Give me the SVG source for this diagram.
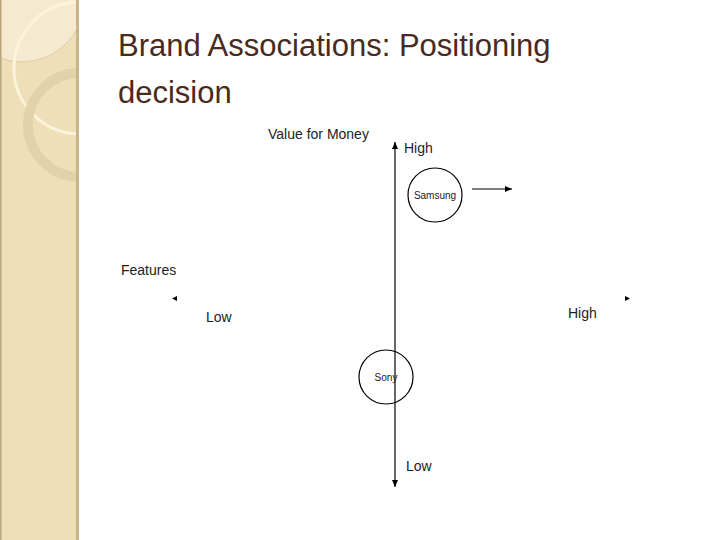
<svg xmlns="http://www.w3.org/2000/svg" width="720" height="540" viewBox="0 0 720 540">
<style>
.t{font-family:"Liberation Sans",Arial,sans-serif;fill:#222}
.n{fill:none;stroke:#000;stroke-width:1.2}
</style>
<defs>
<marker id="a" markerWidth="8" markerHeight="8" refX="7" refY="4" orient="auto" markerUnits="userSpaceOnUse"><path d="M0,1 L7,4 L0,7Z" fill="#000"/></marker>
<clipPath id="c"><rect x="0" y="0" width="78" height="540"/></clipPath>
</defs>
<rect width="720" height="540" fill="#fff"/>
<g id="strip">
<rect x="0" y="0" width="78" height="540" fill="#efdfb8"/>
<g clip-path="url(#c)">
<circle cx="22" cy="0" r="62" fill="#f5ead0" stroke="#d8c59b" stroke-width="0.8"/>
<circle cx="80" cy="68" r="66" fill="none" stroke="#fbf3dc" stroke-width="3"/>
<circle cx="80" cy="125" r="52" fill="none" stroke="#e2d2aa" stroke-width="10"/>
</g>
<rect x="76" y="0" width="3" height="540" fill="#c9b58a"/>
<rect x="0" y="0" width="1.5" height="540" fill="#b8a57c"/>
</g>
<text class="t" x="118" y="56" font-size="31" style="fill:#4a2a1c">Brand Associations: Positioning</text>
<text class="t" x="118" y="103" font-size="31" style="fill:#4a2a1c">decision</text>
<g id="connectors">
<line class="n" x1="395" y1="300" x2="395" y2="142" marker-end="url(#a)"/>
<line class="n" x1="395" y1="300" x2="395" y2="487" marker-end="url(#a)"/>
<line class="n" x1="472" y1="189" x2="512" y2="189" marker-end="url(#a)"/>
<path d="M177,296 L172,298.5 L177,301Z" fill="#000"/>
<path d="M625,296 L630,298.5 L625,301Z" fill="#000"/>
</g>
<g id="samsung"><circle class="n" cx="435" cy="195" r="27"/><text class="t" x="435" y="199" font-size="10" text-anchor="middle">Samsung</text></g>
<g id="sony"><circle class="n" cx="386" cy="377" r="27"/><text class="t" x="386" y="381" font-size="10" text-anchor="middle">Sony</text></g>
<text class="t" x="268" y="139" font-size="14">Value for Money</text>
<text class="t" x="404" y="153" font-size="14">High</text>
<text class="t" x="406" y="471" font-size="14">Low</text>
<text class="t" x="121" y="275" font-size="14">Features</text>
<text class="t" x="206" y="322" font-size="14">Low</text>
<text class="t" x="568" y="318" font-size="14">High</text>
</svg>
